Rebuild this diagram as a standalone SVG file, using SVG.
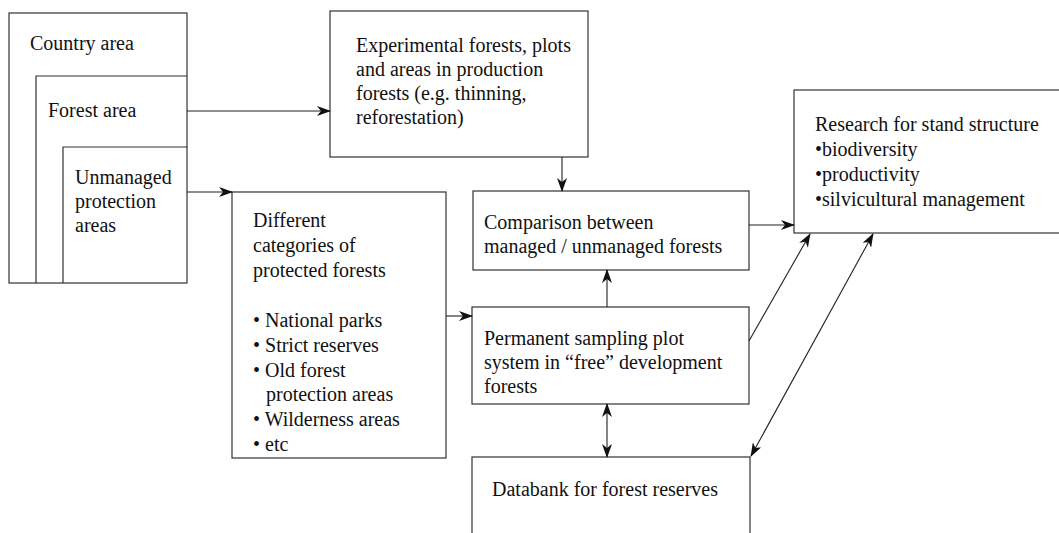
<svg xmlns="http://www.w3.org/2000/svg" width="1059" height="533" viewBox="0 0 1059 533">
<style>
.box{fill:#fff;stroke:#333;stroke-width:1.2}
.ln{fill:none;stroke:#333;stroke-width:1.2}
.t{font-family:"Liberation Serif","Times New Roman",serif;font-size:20px;fill:#111}
.c{fill:none;stroke:#222;stroke-width:1.1}
</style>
<defs>
<marker id="ah" viewBox="0 0 14 10" refX="13" refY="5" markerWidth="14" markerHeight="10" markerUnits="userSpaceOnUse" orient="auto-start-reverse">
<path d="M0,0 L14,5 L0,10 L4,5 z" fill="#111"/>
</marker>
</defs>
<rect width="1059" height="533" fill="#fff"/>
<g id="country">
<rect class="box" x="9" y="13" width="178" height="270"/>
<text class="t" x="30" y="50">Country area</text>
</g>
<g id="forest">
<polyline class="ln" points="36,283 36,76 187,76"/>
<text class="t" x="48" y="117">Forest area</text>
</g>
<g id="unmanaged">
<polyline class="ln" points="63,283 63,147 187,147"/>
<text class="t" x="75" y="184">Unmanaged</text>
<text class="t" x="75" y="208">protection</text>
<text class="t" x="75" y="232">areas</text>
</g>
<g id="experimental">
<rect class="box" x="330" y="11" width="258" height="146"/>
<text class="t" x="356" y="52">Experimental forests, plots</text>
<text class="t" x="356" y="76">and areas in production</text>
<text class="t" x="356" y="100">forests (e.g. thinning,</text>
<text class="t" x="356" y="124">reforestation)</text>
</g>
<g id="categories">
<rect class="box" x="232" y="192" width="214" height="266"/>
<text class="t" x="253" y="227">Different</text>
<text class="t" x="253" y="252">categories of</text>
<text class="t" x="253" y="277">protected forests</text>
<text class="t" x="253" y="327">• National parks</text>
<text class="t" x="253" y="352">• Strict reserves</text>
<text class="t" x="253" y="377">• Old forest</text>
<text class="t" x="266" y="401">protection areas</text>
<text class="t" x="253" y="426">• Wilderness areas</text>
<text class="t" x="253" y="451">• etc</text>
</g>
<g id="comparison">
<rect class="box" x="473" y="191" width="276" height="79"/>
<text class="t" x="484" y="229">Comparison between</text>
<text class="t" x="484" y="253">managed / unmanaged forests</text>
</g>
<g id="permanent">
<rect class="box" x="472" y="307" width="277" height="97"/>
<text class="t" x="484" y="345">Permanent sampling plot</text>
<text class="t" x="484" y="369">system in “free” development</text>
<text class="t" x="484" y="393">forests</text>
</g>
<g id="databank">
<rect class="box" x="472" y="457" width="278" height="90"/>
<text class="t" x="492" y="496">Databank for forest reserves</text>
</g>
<g id="research">
<rect class="box" x="794" y="90" width="280" height="143"/>
<text class="t" x="815" y="131">Research for stand structure</text>
<text class="t" x="815" y="156">•biodiversity</text>
<text class="t" x="815" y="181">•productivity</text>
<text class="t" x="815" y="206">•silvicultural management</text>
</g>
<g id="connectors">
<line class="c" x1="187" y1="111" x2="330" y2="111" marker-end="url(#ah)"/>
<line class="c" x1="187" y1="192" x2="232" y2="192" marker-end="url(#ah)"/>
<line class="c" x1="562" y1="157" x2="562" y2="191" marker-end="url(#ah)"/>
<line class="c" x1="446" y1="316" x2="472" y2="316" marker-end="url(#ah)"/>
<line class="c" x1="607" y1="307" x2="607" y2="270" marker-end="url(#ah)"/>
<line class="c" x1="607" y1="404" x2="607" y2="457" marker-start="url(#ah)" marker-end="url(#ah)"/>
<line class="c" x1="749" y1="225" x2="794" y2="225" marker-end="url(#ah)"/>
<line class="c" x1="749" y1="341" x2="810" y2="234" marker-end="url(#ah)"/>
<line class="c" x1="873" y1="234" x2="751" y2="456" marker-start="url(#ah)" marker-end="url(#ah)"/>
</g>
</svg>
